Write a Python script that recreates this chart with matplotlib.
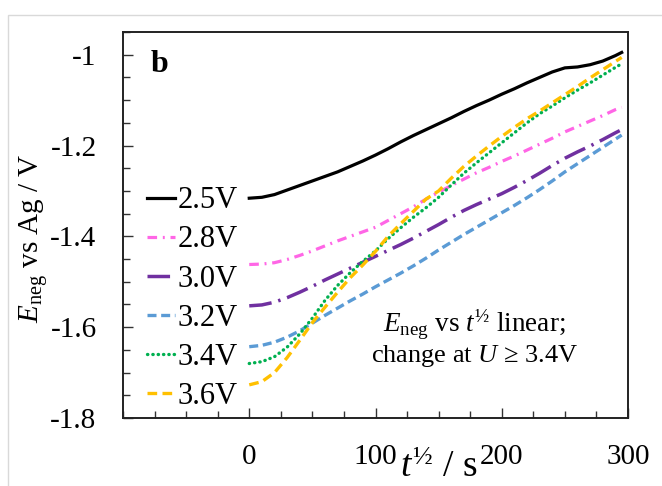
import matplotlib
matplotlib.use("Agg")
import matplotlib.pyplot as plt
from matplotlib.ticker import FixedLocator, MultipleLocator, FuncFormatter
from matplotlib.patches import Rectangle

plt.rcParams['font.family'] = ['Liberation Serif', 'DejaVu Serif']
plt.rcParams['mathtext.fontset'] = 'custom'
plt.rcParams['mathtext.rm'] = 'Liberation Serif'
plt.rcParams['mathtext.it'] = 'Liberation Serif:italic'
plt.rcParams['mathtext.bf'] = 'Liberation Serif:bold'
plt.rcParams['axes.unicode_minus'] = False

# ---- data ----
t_half = [0, 10, 20, 30, 40, 50, 60, 70, 80, 90, 100, 110, 120, 130, 140, 150,
          160, 170, 180, 190, 200, 210, 220, 230, 240, 250, 260, 270, 280, 290, 295]

E_25 = [-1.316, -1.314, -1.308, -1.298, -1.288, -1.278, -1.268, -1.258, -1.246, -1.234,
        -1.221, -1.207, -1.192, -1.178, -1.165, -1.152, -1.139, -1.125, -1.112, -1.100,
        -1.087, -1.075, -1.062, -1.050, -1.038, -1.029, -1.027, -1.022, -1.014, -1.002, -0.995]
E_28 = [-1.462, -1.461, -1.458, -1.451, -1.442, -1.432, -1.421, -1.410, -1.400, -1.390,
        -1.380, -1.365, -1.350, -1.335, -1.318, -1.303, -1.288, -1.274, -1.260, -1.248,
        -1.235, -1.223, -1.210, -1.197, -1.184, -1.170, -1.158, -1.146, -1.134, -1.121, -1.116]
E_30 = [-1.553, -1.551, -1.545, -1.535, -1.523, -1.510, -1.496, -1.483, -1.470, -1.457,
        -1.444, -1.431, -1.418, -1.404, -1.389, -1.374, -1.358, -1.343, -1.330, -1.318,
        -1.306, -1.292, -1.277, -1.261, -1.244, -1.228, -1.214, -1.201, -1.187, -1.172, -1.165]
E_32 = [-1.643, -1.640, -1.633, -1.622, -1.608, -1.591, -1.574, -1.558, -1.542, -1.527,
        -1.511, -1.496, -1.481, -1.465, -1.448, -1.430, -1.413, -1.396, -1.380, -1.364,
        -1.348, -1.332, -1.315, -1.297, -1.278, -1.258, -1.240, -1.222, -1.204, -1.186, -1.177]
E_34 = [-1.680, -1.676, -1.665, -1.644, -1.615, -1.580, -1.541, -1.508, -1.480, -1.455,
        -1.432, -1.405, -1.381, -1.358, -1.337, -1.314, -1.287, -1.261, -1.238, -1.216,
        -1.194, -1.172, -1.150, -1.130, -1.113, -1.095, -1.078, -1.062, -1.045, -1.028, -1.020]
E_36 = [-1.727, -1.720, -1.700, -1.667, -1.629, -1.590, -1.556, -1.523, -1.491, -1.463,
        -1.433, -1.400, -1.372, -1.345, -1.318, -1.300, -1.272, -1.246, -1.223, -1.201,
        -1.180, -1.160, -1.141, -1.124, -1.106, -1.088, -1.070, -1.051, -1.033, -1.015, -1.006]

labels = ['2.5V', '2.8V', '3.0V', '3.2V', '3.4V', '3.6V']
x_major = [0, 100, 200, 300]
y_major = [-1.8, -1.6, -1.4, -1.2, -1.0]

# ---- figure ----
fig = plt.figure(figsize=(6.62, 4.86), dpi=100)
ax = fig.add_axes([123/662, 1 - 418/486, (628-123)/662, (418-32)/486])

fig.patches.append(Rectangle((8/662, -0.1), 1.2, 1 - 15/486 + 0.1,
                             transform=fig.transFigure, fill=False,
                             ec='#D9D9D9', lw=1.0))

series = [E_25, E_28, E_30, E_32, E_34, E_36]
styles = [
    dict(color='#000000', lw=2.3, linestyle='-'),
    dict(color='#FF66E6', lw=2.3, linestyle=(0, (3.0, 1.8, 0.6, 1.8))),
    dict(color='#7030A0', lw=2.5, linestyle=(0, (6.5, 2.0, 0.7, 2.0))),
    dict(color='#5B9BD5', lw=2.4, linestyle=(0, (2.7, 1.4))),
    dict(color='#00B050', lw=2.4, linestyle=(0, (0.1, 1.5)), dash_capstyle='round'),
    dict(color='#FFC000', lw=2.4, linestyle=(0, (2.9, 1.6))),
]
for y, lab, st in zip(series, labels, styles):
    ax.plot(t_half, y, label=lab, **st)

ax.set_xlim(-100, 300)
ax.set_ylim(-1.8, -0.95)

ax.xaxis.set_major_locator(FixedLocator(x_major))
ax.xaxis.set_minor_locator(MultipleLocator(25))
ax.yaxis.set_major_locator(FixedLocator(y_major))
ax.yaxis.set_minor_locator(MultipleLocator(0.05))
ax.yaxis.set_major_formatter(FuncFormatter(lambda v, p: '%g' % round(v, 2)))
ax.xaxis.set_major_formatter(FuncFormatter(lambda v, p: '%g' % v))

ax.tick_params(axis='both', which='both', direction='in', labelsize=21,
               top=False, right=False, width=1.0, color='#333333')
ax.tick_params(axis='both', which='major', length=7, pad=19)
ax.tick_params(axis='both', which='minor', length=5)

for sp in ax.spines.values():
    sp.set_linewidth(1.4)
    sp.set_color('#222222')

ax.set_xlabel(r'$t^{½}$ / s', fontsize=27)
ax.xaxis.set_label_coords(0.626, -0.152)
ax.xaxis.label.set_va('baseline')
ax.set_ylabel(r'$E_{\mathrm{neg}}$ vs Ag / V', fontsize=21)
ax.yaxis.set_label_coords(-0.178, 0.466)
ax.yaxis.label.set_va('center')

ax.text(0.055, 0.896, 'b', transform=ax.transAxes, fontsize=23,
        fontweight='bold', ha='left', va='baseline')

ax.text(0.696, 0.223, r'$E_{\mathrm{neg}}$ vs $t^{½}$ linear;', transform=ax.transAxes,
        fontsize=19.5, ha='center', va='baseline')
ax.text(0.696, 0.145, 'change at $U$ ≥ 3.4V', transform=ax.transAxes,
        fontsize=19, ha='center', va='baseline')

leg = ax.legend(loc='upper left', bbox_to_anchor=(0.048, 0.60), frameon=False,
                fontsize=22, handlelength=0.9, handletextpad=0.1,
                labelspacing=0.33, borderpad=0, borderaxespad=0)

fig.savefig('out.png', dpi=100)
